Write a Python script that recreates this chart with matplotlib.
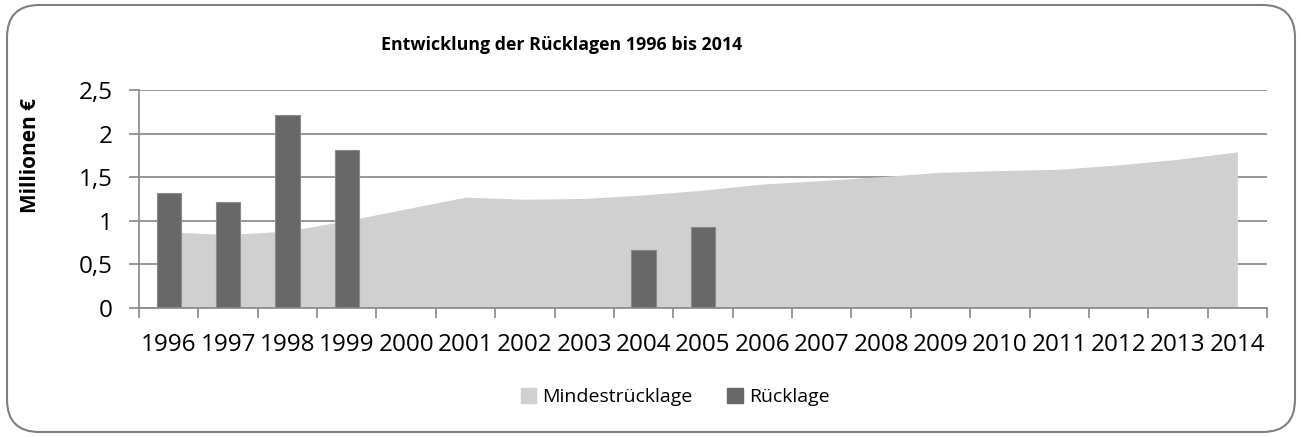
import matplotlib.pyplot as plt
from matplotlib.patches import FancyBboxPatch, Patch

plt.rcParams['font.family'] = ['Open Sans', 'DejaVu Sans']

years = [str(y) for y in range(1996, 2015)]
# Mindestrücklage (area), Mio. EUR
mindest = [0.87, 0.84, 0.88, 1.00, 1.135, 1.27, 1.245, 1.255, 1.295, 1.35,
           1.42, 1.46, 1.505, 1.555, 1.575, 1.59, 1.64, 1.705, 1.79]
# Rücklage (bars), None = keine Angabe
ruecklage = [1.32, 1.215, 2.21, 1.81, None, None, None, None, 0.66, 0.925,
             None, None, None, None, None, None, None, None, None]

area_col = '#d0d0d0'
bar_col = '#686868'
grid_col = '#868686'

fig = plt.figure(figsize=(13, 4.37), dpi=100)
ax = fig.add_axes([139 / 1300, 1 - 307.7 / 437, 1128 / 1300, 217.7 / 437])

x = list(range(len(years)))
ax.fill_between(x, mindest, 0, color=area_col, lw=0, zorder=2)
bx = [i for i, v in enumerate(ruecklage) if v is not None]
bv = [v for v in ruecklage if v is not None]
ax.bar(bx, bv, width=0.41, color=bar_col, edgecolor='#8a8a8a', lw=0.8, zorder=3)

ax.set_xlim(-0.5, len(years) - 0.5)
ax.set_ylim(0, 2.5)
ax.set_yticks([0, 0.5, 1, 1.5, 2, 2.5])
ax.set_yticklabels(['0', '0,5', '1', '1,5', '2', '2,5'], fontsize=17.5)
ax.set_xticks(x)
ax.set_xticklabels(years, fontsize=17.5)
ax.set_xticks([i - 0.5 for i in range(len(years) + 1)], minor=True)
ax.tick_params(axis='x', which='major', length=0, pad=18)
ax.tick_params(axis='x', which='minor', length=7, color=grid_col, width=1.2)
ax.tick_params(axis='y', length=7, color=grid_col, width=1.2, pad=12)
ax.yaxis.grid(True, color=grid_col, lw=1.2, zorder=1)
ax.set_axisbelow(True)
for s in ['top', 'right']:
    ax.spines[s].set_visible(False)
for s in ['left', 'bottom']:
    ax.spines[s].set_color(grid_col)
    ax.spines[s].set_linewidth(1.2)
ax.spines['bottom'].set_zorder(5)

fig.text(30 / 1300, 1 - 155 / 437, 'Millionen €', rotation=90, ha='center', va='center',
         fontsize=15, fontweight='bold')
fig.text(562 / 1300, 1 - 45 / 437, 'Entwicklung der Rücklagen 1996 bis 2014', ha='center', va='center',
         fontsize=12.8, fontweight='bold')

handles = [Patch(color=area_col, label='Mindestrücklage'), Patch(color=bar_col, label='Rücklage')]
fig.legend(handles=handles, loc='center', bbox_to_anchor=(675 / 1300, 1 - 397 / 437), ncol=2,
           frameon=False, fontsize=14, handlelength=0.8, handleheight=0.8,
           handletextpad=0.3, columnspacing=1.8)

border = FancyBboxPatch((7 / 1300, 5 / 437), 1288 / 1300, 427 / 437,
                        boxstyle='round,pad=0,rounding_size=0.025', transform=fig.transFigure,
                        fill=False, ec='#7f7f7f', lw=1.5, mutation_aspect=1300 / 437)
fig.patches.append(border)

fig.savefig('out.png', dpi=100)
